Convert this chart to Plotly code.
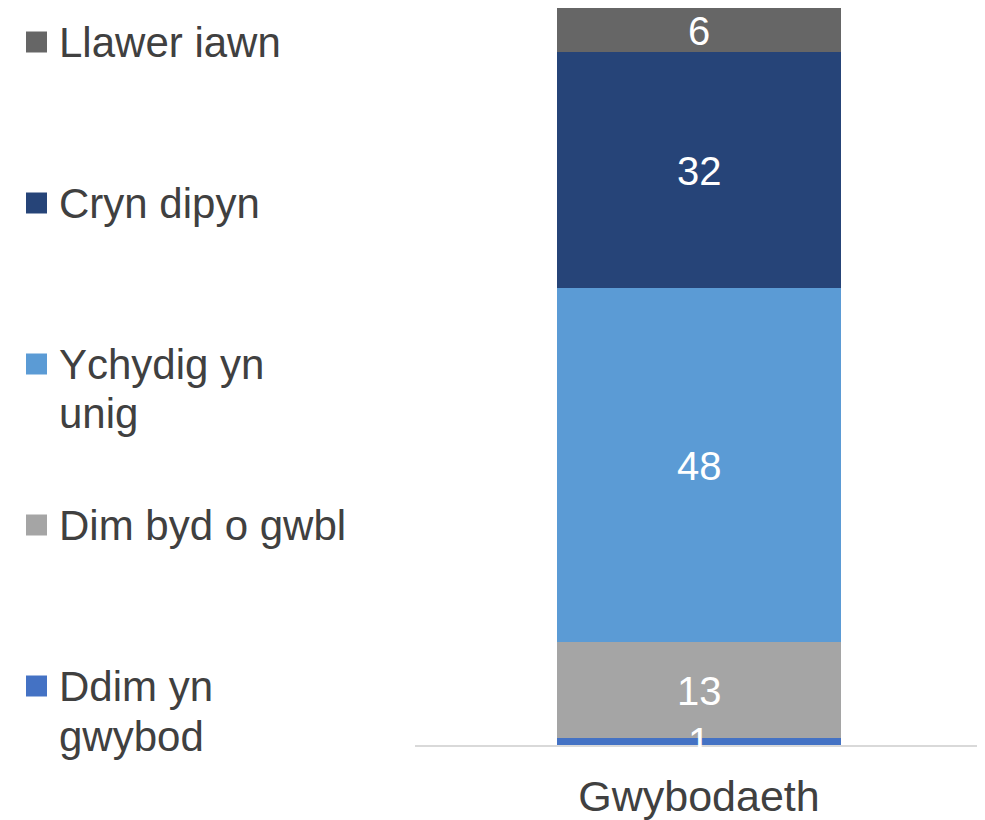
import plotly.graph_objects as go

categories = ["Gwybodaeth"]
series_names = ["Ddim yn gwybod", "Dim byd o gwbl", "Ychydig yn unig", "Cryn dipyn", "Llawer iawn"]
legend_lines = [["Ddim yn", "gwybod"], ["Dim byd o gwbl"], ["Ychydig yn", "unig"], ["Cryn dipyn"], ["Llawer iawn"]]
series_values = [[1], [13], [48], [32], [6]]
colors = ["#4472C4", "#A5A5A5", "#5B9BD5", "#264478", "#666666"]
# legend row positions (window px from top, first line centre)
legend_y_px = [686, 525, 364, 203, 42]

OFF = 8  # page body margin
W, H = 985 - OFF, 820 - OFF
L, T = 415 - OFF, 8 - OFF
R = W - (983 - OFF)
B = H - (745 - OFF)
pw, ph = W - L - R, H - T - B
FONT = "Liberation Sans, Arial, sans-serif"
TXT = "#404040"


def px_x(x):
    return (x - OFF - L) / pw


def px_y(y):
    return (H - B - (y - OFF)) / ph


fig = go.Figure()
annotations = []
cum = 0
for name, vals, col in zip(series_names, series_values, colors):
    fig.add_trace(go.Bar(
        x=categories, y=vals, name=name, marker=dict(color=col, line=dict(width=0)),
        showlegend=False, hoverinfo="skip",
    ))
    for cat, v in zip(categories, vals):
        annotations.append(dict(
            xref="x", yref="y", x=cat, y=cum + v / 2, yshift=-1,
            xanchor="center", yanchor="middle", showarrow=False,
            text=str(v), font=dict(color="white", size=40, family=FONT),
        ))
    cum += vals[0]

shapes = []
for lines, col, py in zip(legend_lines, colors, legend_y_px):
    for i, line in enumerate(lines):
        annotations.append(dict(
            xref="paper", yref="paper", x=px_x(57), y=px_y(py + 50 * i),
            xanchor="left", yanchor="middle", align="left", showarrow=False,
            text=line, font=dict(size=42, color=TXT, family=FONT),
        ))
    shapes.append(dict(
        type="rect", xref="paper", yref="paper",
        x0=px_x(26), x1=px_x(47),
        y0=px_y(py + 10.5), y1=px_y(py - 10.5),
        fillcolor=col, line=dict(width=0),
    ))

fig.update_layout(
    barmode="stack", bargap=0.5,
    width=W, height=H,
    margin=dict(l=L, r=R, t=T, b=B, pad=0),
    paper_bgcolor="white", plot_bgcolor="white",
    font=dict(family=FONT, color=TXT),
    annotations=annotations, shapes=shapes,
    xaxis=dict(showline=True, linecolor="#D9D9D9", linewidth=2, ticks="",
               tickfont=dict(size=43, color=TXT, family=FONT), showgrid=False,
               ticklabelstandoff=12, fixedrange=True),
    yaxis=dict(range=[0, 100], visible=False, showgrid=False, fixedrange=True),
)

fig.write_html("out.html")
